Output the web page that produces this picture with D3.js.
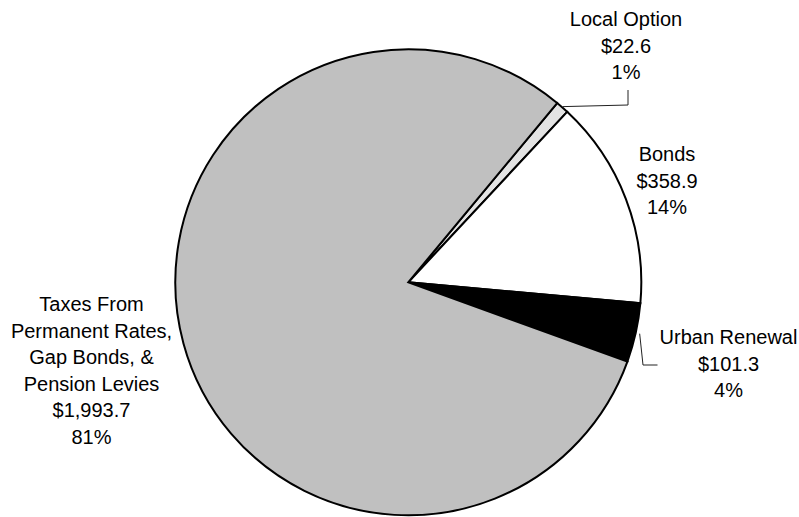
<!DOCTYPE html>
<html>
<head>
<meta charset="utf-8">
<script src="https://cdn.jsdelivr.net/npm/d3@7/dist/d3.min.js"></script>
<style>
  html, body { margin: 0; padding: 0; background: #fff; }
  svg { display: block; }
  text { font-family: "Liberation Sans", Arial, sans-serif; font-size: 20px; fill: #000; }
</style>
</head>
<body>
<svg id="chart" width="799" height="517"></svg>
<script>
// ---- data ----
const categories = ["Local Option", "Bonds", "Urban Renewal", "Taxes From Permanent Rates, Gap Bonds, & Pension Levies"];
const categoryLines = [
  ["Local Option"],
  ["Bonds"],
  ["Urban Renewal"],
  ["Taxes From", "Permanent Rates,", "Gap Bonds, &", "Pension Levies"]
];
const values = [22.6, 358.9, 101.3, 1993.7];
const colors = ["#e3e3e3", "#ffffff", "#000000", "#c0c0c0"];

// ---- layout ----
const width = 799, height = 517;
const cx = 408.3, cy = 282.3, r = 233;
const startDeg = 39.7;
const lineH = 26.6;
const labelPos = [
  {x: 626, y: 26},
  {x: 667, y: 161},
  {x: 728.5, y: 344},
  {x: 91.5, y: 311}
];

const total = d3.sum(values);
const data = categories.map((c, i) => ({name: c, lines: categoryLines[i], value: values[i], color: colors[i], i}));

const pie = d3.pie().sort(null).value(d => d.value)
  .startAngle(startDeg * Math.PI / 180)
  .endAngle((startDeg + 360) * Math.PI / 180);
const arcs = pie(data);
const arc = d3.arc().innerRadius(0).outerRadius(r);

const svg = d3.select("#chart");
const g = svg.append("g").attr("transform", `translate(${cx},${cy})`);

g.selectAll("path.slice").data(arcs).join("path")
  .attr("class", "slice")
  .attr("d", arc)
  .attr("fill", d => d.data.color)
  .attr("stroke", "#000")
  .attr("stroke-width", 2)
  .attr("stroke-linejoin", "miter");

// leader lines
const fmtVal = d3.format(",.1f");
const fmtPct = d3.format(".0%");
function edgePoint(a, rr) {
  const m = (a.startAngle + a.endAngle) / 2;
  return [cx + rr * Math.sin(m), cy - rr * Math.cos(m)];
}
const lo = edgePoint(arcs[0], r + 1);
const lp = labelPos[0];
svg.append("path")
  .attr("d", d3.line()([[lo[0], lo[1]], [lp.x + 2, 105], [lp.x + 2, 90]]))
  .attr("fill", "none").attr("stroke", "#222").attr("stroke-width", 1);

const ur = edgePoint(arcs[2], r + 4);
const up = labelPos[2];
svg.append("path")
  .attr("d", d3.line()([[ur[0], ur[1]], [643, up.y + 21], [up.x - 71, up.y + 21]]))
  .attr("fill", "none").attr("stroke", "#222").attr("stroke-width", 1);

// labels
data.forEach((d, i) => {
  const p = labelPos[i];
  const lines = d.lines.concat(["$" + fmtVal(d.value), fmtPct(d.value / total)]);
  const t = svg.append("text").attr("text-anchor", "middle");
  lines.forEach((ln, k) => {
    t.append("tspan").attr("x", p.x).attr("y", p.y + k * lineH).text(ln);
  });
});
</script>
</body>
</html>
